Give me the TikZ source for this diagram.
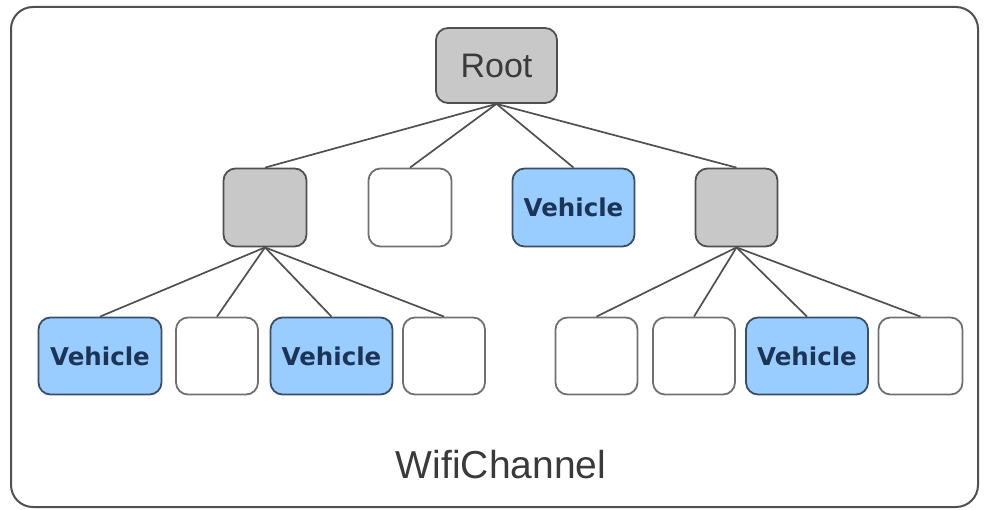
\documentclass[tikz,border=0pt]{standalone}
\usepackage{fontspec}
\setmainfont{Liberation Sans}
\newfontfamily\vfont{DejaVu Sans}
\definecolor{grayfill}{HTML}{C8C8C8}
\definecolor{grayline}{HTML}{505050}
\definecolor{bluefill}{HTML}{99CCFF}
\definecolor{blueline}{HTML}{3B4E66}
\definecolor{vtext}{HTML}{1C3557}
\definecolor{wline}{HTML}{707070}
\definecolor{ctext}{HTML}{3A3A3A}
\tikzset{
  box/.style={draw, rounded corners=12pt, line width=1.8pt, minimum height=78pt, inner sep=0pt},
  graybox/.style={box, draw=grayline, fill=grayfill},
  whitebox/.style={box, draw=wline, fill=white},
  vehiclebox/.style={box, draw=blueline, fill=bluefill, font=\vfont\bfseries\fontsize{24.5}{28}\selectfont, text=vtext},
  conn/.style={draw=grayline, line width=1.7pt},
}
\begin{document}
\begin{tikzpicture}[x=1pt,y={(0pt,-1pt)}]
\useasboundingbox (0,0) rectangle (984,510);
\draw[line width=2pt, draw=grayline, rounded corners=22pt] (11,7) rectangle (978,507);
% level 1
\node[graybox, minimum width=121pt, minimum height=75pt, font=\fontsize{34}{38}\selectfont, text=ctext] (root) at (496.5,65.5) {Root};
% level 2
\node[graybox, minimum width=83pt] (a) at (265,207.5) {};
\node[whitebox, minimum width=83pt] (b) at (410,207.5) {};
\node[vehiclebox, minimum width=122pt] (v0) at (573.5,207.5) {Vehicle};
\node[graybox, minimum width=82pt] (c) at (736.5,207.5) {};
% level 3
\node[vehiclebox, minimum width=123pt, minimum height=77pt] (v1) at (100,356) {Vehicle};
\node[whitebox, minimum width=82pt, minimum height=77pt] (w1) at (217,356) {};
\node[vehiclebox, minimum width=122pt, minimum height=77pt] (v2) at (331.5,356) {Vehicle};
\node[whitebox, minimum width=82pt, minimum height=77pt] (w2) at (444,356) {};
\node[whitebox, minimum width=82pt, minimum height=77pt] (w3) at (596.5,356) {};
\node[whitebox, minimum width=82pt, minimum height=77pt] (w4) at (694,356) {};
\node[vehiclebox, minimum width=122pt, minimum height=77pt] (v3) at (807,356) {Vehicle};
\node[whitebox, minimum width=84pt, minimum height=77pt] (w5) at (920.5,356) {};
% connectors
\foreach \n in {a,b,v0,c} \draw[conn] (root.south) -- (\n.north);
\foreach \n in {v1,w1,v2,w2} \draw[conn] (a.south) -- (\n.north);
\foreach \n in {w3,w4,v3,w5} \draw[conn] (c.south) -- (\n.north);
\node[font=\fontsize{39}{42}\selectfont, text=ctext, anchor=base, inner sep=0pt] (label) at (501,478) {WifiChannel};
\end{tikzpicture}
\end{document}
